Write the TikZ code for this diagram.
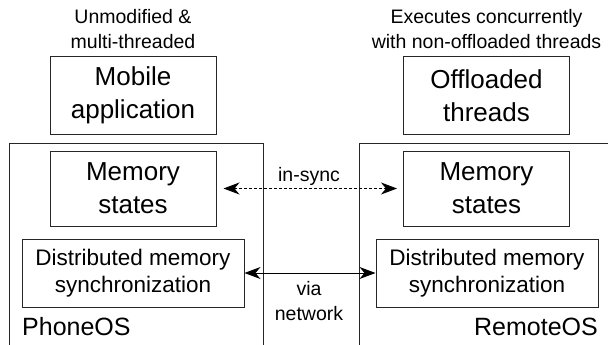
\documentclass[tikz,border=0pt]{standalone}
\usepackage{fontspec}
\setmainfont{Liberation Sans}
\usetikzlibrary{arrows.meta}
\begin{document}
\begin{tikzpicture}[x=1pt,y=-1pt,
  bigbox/.style={draw=black!85,line width=1pt,minimum width=166pt,minimum height=76pt,align=center,inner sep=0pt,font=\fontsize{26}{33}\selectfont},
  distbox/.style={draw=black!85,line width=1pt,minimum width=222pt,minimum height=68pt,align=center,inner sep=0pt,font=\fontsize{22.5}{27}\selectfont},
  lbl/.style={align=center,inner sep=0pt,font=\fontsize{19.5}{25}\selectfont},
  oslbl/.style={inner sep=0pt,font=\fontsize{25}{30}\selectfont},
  osline/.style={draw=black!85,line width=1pt},
  arr/.style={line width=1pt,{Stealth[length=16pt,width=12pt,inset=5pt]}-{Stealth[length=16pt,width=12pt,inset=5pt]}}]
\useasboundingbox (0,0) rectangle (608,345);
% OS frames
\draw[osline] (9,345) -- (9,143) -- (263,143) -- (263,345);
\draw[osline] (359,345) -- (359,143) -- (610,143);
% top boxes
\node[bigbox,minimum height=77pt] (app) at (133,95.5) {Mobile\\application};
\node[bigbox,minimum height=77pt] (off) at (486.5,95.5) {Offloaded\\threads};
\node[lbl] (applbl) at (133,29.5) {Unmodified \&\\multi-threaded};
\node[lbl] (offlbl) at (486.5,29.5) {Executes concurrently\\with non-offloaded threads};
% memory states
\node[bigbox,minimum height=75pt] (meml) at (133,188.5) {Memory\\states};
\node[bigbox,minimum height=75pt] (memr) at (486.5,188.5) {Memory\\states};
% distributed
\node[distbox] (distl) at (133,273) {Distributed memory\\synchronization};
\node[distbox] (distr) at (487,273) {Distributed memory\\synchronization};
% OS labels
\node[oslbl,anchor=west] (phone) at (22,327) {PhoneOS};
\node[oslbl,anchor=east] (remote) at (598,327) {RemoteOS};
% arrows
\draw[arr,dashed,dash pattern=on 3pt off 2pt,shorten <=7pt,shorten >=6pt] (meml.east) -- (memr.west);
\draw[arr] (distl.east) -- (distr.west);
\node[lbl] (sync) at (309,176) {in-sync};
\node[lbl] (via) at (309,301.5) {via\\network};
\end{tikzpicture}
\end{document}
